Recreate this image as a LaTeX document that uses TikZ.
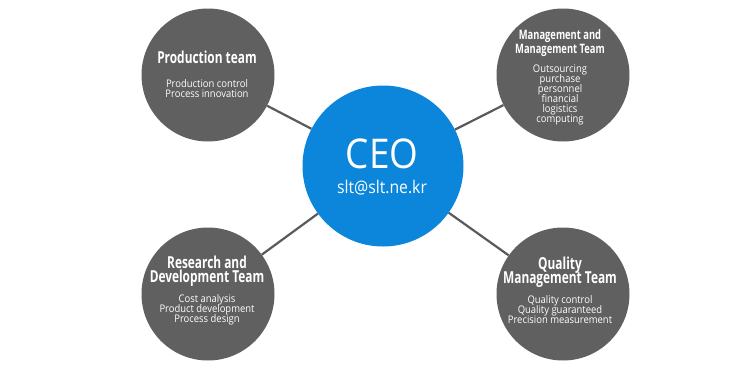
\documentclass[tikz,border=0pt]{standalone}
\usepackage{fontspec}
\setmainfont{Open Sans}
\newfontfamily\teamfont{Open Sans}[FakeStretch=0.72]
\newfontfamily\itemfont{Open Sans}[FakeStretch=0.9]
\usepackage{tikz}
\definecolor{teamGray}{HTML}{606060}
\definecolor{ceoBlue}{HTML}{0B86DB}
\definecolor{lineGray}{HTML}{5A5A5A}

\begin{document}
\setlength{\lineskiplimit}{-10pt}\setlength{\normallineskiplimit}{-10pt}
\begin{tikzpicture}
[x=1pt,y=-1pt,%
    teamDecorate/.style={shape=circle,minimum size=133pt,inner sep=0pt,fill=teamGray},%
    ceoDecorate/.style={shape=circle,minimum size=161pt,inner sep=0pt,fill=ceoBlue},%
    titleDecorate/.style={white,align=center,anchor=base,inner sep=0pt,font=\teamfont\bfseries\fontsize{16.5}{13.5}\selectfont},%
    itemDecorate/.style={white,align=center,anchor=base,inner sep=0pt,font=\itemfont\fontsize{10.5}{9.9}\selectfont},%
    lineDecorate/.style={lineGray,line width=2.2pt}]
    \useasboundingbox (0,0) rectangle (740,370);
    %% circles
    \node (ceo) at (383,166) [ceoDecorate] {};
    \foreach \nodename/\x/\y in {prod/208/75, mgmt/563/75, rnd/208/294, qual/563/294}
    {
        \node (\nodename) at (\x,\y) [teamDecorate] {};
    }
    %% edges or lines
    \path\foreach \endnode in {prod, mgmt, rnd, qual}
    {
        (ceo) edge[lineDecorate] (\endnode)
    };
    %% ceo text
    \node (ceoTitle) at (382,168) [white,anchor=base,inner sep=0pt,font=\itemfont\fontsize{41}{41}\selectfont] {CEO};
    \node (ceoMail) at (382,193) [white,anchor=base,inner sep=0pt,font=\itemfont\fontsize{17.5}{18}\selectfont] {slt@slt.ne.kr};
    %% team titles
    \node (prodTitle) at (207,63) [titleDecorate] {Production team};
    \node (mgmtTitle) at (560,53) [titleDecorate,font=\teamfont\bfseries\fontsize{13}{13.5}\selectfont] {Management and\\Management Team};
    \node (rndTitle) at (207,282) [titleDecorate,font=\teamfont\bfseries\fontsize{16.5}{14}\selectfont] {Research and\\Development Team};
    \node (qualTitle) at (560,283) [titleDecorate] {Quality\\Management Team};
    %% team tasks
    \node (prodItems) at (207,97) [itemDecorate] {Production control\\Process innovation};
    \node (mgmtItems) at (560,122) [itemDecorate] {Outsourcing\\purchase\\personnel\\financial\\logistics\\computing};
    \node (rndItems) at (207,322) [itemDecorate] {Cost analysis\\Product development\\Process design};
    \node (qualItems) at (560,323) [itemDecorate] {Quality control\\Quality guaranteed\\Precision measurement};
\end{tikzpicture}
\end{document}
